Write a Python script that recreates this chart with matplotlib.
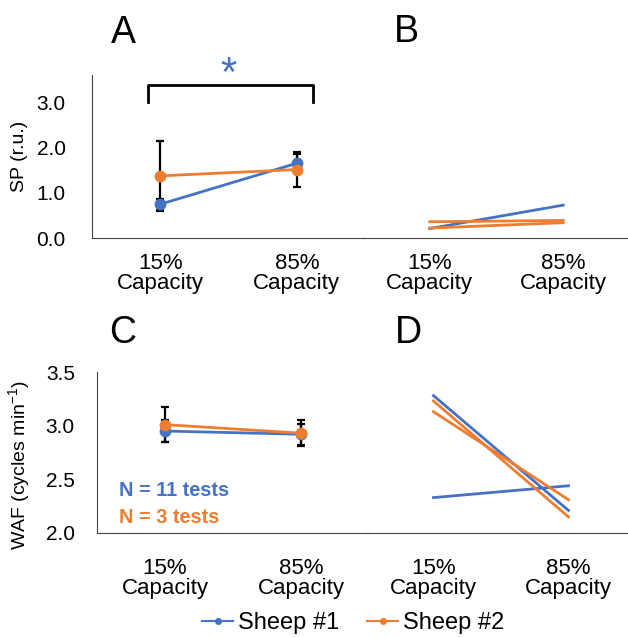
import numpy as np
import matplotlib.pyplot as plt

plt.rcParams['font.family'] = ['Liberation Sans', 'DejaVu Sans']
plt.rcParams['mathtext.default'] = 'regular'

BLUE = '#4472C4'
ORANGE = '#ED7D31'

# Данные
categories = ['15%\nCapacity', '85%\nCapacity']

# A: SP mean +/- err
sp_sheep1 = [0.75, 1.66]
sp_sheep1_err = [0.12, 0.20]
sp_sheep2 = [1.38, 1.52]
sp_sheep2_err = [0.78, 0.38]

# B: SP individual
sp_ind_sheep1 = [[0.21, 0.73]]
sp_ind_sheep2 = [[0.36, 0.39], [0.22, 0.34]]

# C: WAF mean +/- err
waf_sheep1 = [2.95, 2.92]
waf_sheep1_err = [0.10, 0.10]
waf_sheep2 = [3.01, 2.93]
waf_sheep2_err = [0.16, 0.12]

# D: WAF individual
waf_ind_sheep1 = [[3.28, 2.21], [2.33, 2.44]]
waf_ind_sheep2 = [[3.23, 2.15], [3.13, 2.31]]

W, H = 628, 637
fig = plt.figure(figsize=(W / 100, H / 100), dpi=100)


def box(l, r, t, b):
    return [l / W, 1 - b / H, (r - l) / W, (b - t) / H]


def fx(px):
    return px / W


def fy(py):
    return 1 - py / H


axA = fig.add_axes(box(92, 365, 75, 238))
axB = fig.add_axes(box(363, 630, 75, 238))
axC = fig.add_axes(box(97, 369, 372, 533))
axD = fig.add_axes(box(366, 636, 372, 533))

x = np.arange(len(categories))

for ax in (axA, axB, axC, axD):
    ax.set_xlim(-0.5, 1.5)
    ax.set_xticks(x)
    ax.set_xticklabels(categories, fontsize=16, linespacing=0.95)
    ax.tick_params(axis='x', length=0, pad=11)
    ax.tick_params(axis='y', length=0, labelsize=15, pad=19)
    for s in ('top', 'right'):
        ax.spines[s].set_visible(False)
    ax.spines['bottom'].set_color('#444444')
    ax.spines['left'].set_color('#444444')
    ax.patch.set_alpha(0)

for ax in (axB, axD):
    ax.spines['left'].set_visible(False)
    ax.set_yticks([])

axA.set_ylim(0, 3.62)
axB.set_ylim(0, 3.62)
axA.set_yticks([0, 1, 2, 3])
axA.set_yticklabels(['0.0', '1.0', '2.0', '3.0'])
axC.set_ylim(2.0, 3.5)
axD.set_ylim(2.0, 3.5)
axC.set_yticks([2.0, 2.5, 3.0, 3.5])
axC.set_yticklabels(['2.0', '2.5', '3.0', '3.5'])
axC.tick_params(axis='y', pad=16)
axC.tick_params(axis='x', pad=18)
axD.tick_params(axis='x', pad=18)

axA.set_ylabel('SP (r.u.)', fontsize=14)
axA.yaxis.set_label_coords(-0.234, 0.5)
axC.set_ylabel('WAF (cycles min$^{-1}$)', fontsize=14)
axC.yaxis.set_label_coords(-0.239, 0.42)

# error bars (A, C)
for ax, ys, es in ((axA, sp_sheep1, sp_sheep1_err), (axA, sp_sheep2, sp_sheep2_err),
                   (axC, waf_sheep1, waf_sheep1_err), (axC, waf_sheep2, waf_sheep2_err)):
    ax.errorbar(x, ys, yerr=es, fmt='none', ecolor='black', elinewidth=1.6,
                capsize=3, capthick=1.6, zorder=2)

axA.plot(x, sp_sheep1, '-o', color=BLUE, lw=2, ms=7.5, zorder=3)
axA.plot(x, sp_sheep2, '-o', color=ORANGE, lw=2, ms=7.5, zorder=3)
axC.plot(x, waf_sheep1, '-o', color=BLUE, lw=2, ms=7.5, zorder=3)
axC.plot(x, waf_sheep2, '-o', color=ORANGE, lw=2, ms=7.5, zorder=3)

# significance bracket
br_x = [-0.09, 1.12]
br_y = [3.03, 3.40]
axA.plot([br_x[0], br_x[0], br_x[1], br_x[1]], [br_y[0], br_y[1], br_y[1], br_y[0]],
         color='black', lw=2, clip_on=False, solid_joinstyle='round')
axA.text(0.5, 3.62, '*', color=BLUE, fontsize=30, ha='center', va='center', clip_on=False)

# B, D
for ys in sp_ind_sheep1:
    axB.plot(x, ys, color=BLUE, lw=2)
for ys in sp_ind_sheep2:
    axB.plot(x, ys, color=ORANGE, lw=2)
for ys in waf_ind_sheep1:
    axD.plot(x, ys, color=BLUE, lw=2)
for ys in waf_ind_sheep2:
    axD.plot(x, ys, color=ORANGE, lw=2)

# panel letters
for lbl, px, py in (('A', 123, 43), ('B', 406, 42), ('C', 123, 343), ('D', 408, 343)):
    fig.text(fx(px), fy(py), lbl, fontsize=27, ha='center', va='baseline')

fig.text(fx(119), fy(496), 'N = 11 tests', color=BLUE, fontsize=14.4,
         fontweight='bold', va='baseline')
fig.text(fx(119), fy(523), 'N = 3 tests', color=ORANGE, fontsize=14.4,
         fontweight='bold', va='baseline')

h1, = axC.plot([], [], '-o', color=BLUE, lw=1.5, ms=4)
h2, = axC.plot([], [], '-o', color=ORANGE, lw=1.5, ms=4)
fig.legend([h1, h2], ['Sheep #1', 'Sheep #2'], loc='center', bbox_to_anchor=(fx(353), fy(623)),
           ncol=2, frameon=False, fontsize=17, handlelength=1.3, handletextpad=0.2,
           columnspacing=1.2)

fig.savefig('out.png', dpi=100)
